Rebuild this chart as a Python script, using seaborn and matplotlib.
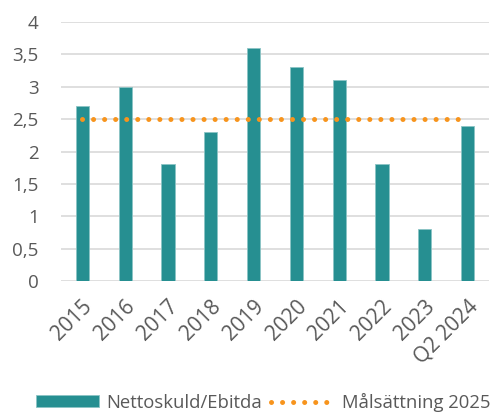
import matplotlib
matplotlib.use("Agg")
import matplotlib.pyplot as plt
import matplotlib.transforms as mtransforms
import seaborn as sns
import pandas as pd

categories = ["2015", "2016", "2017", "2018", "2019", "2020", "2021", "2022", "2023", "Q2 2024"]
nettoskuld_ebitda = [2.7, 3.0, 1.8, 2.3, 3.6, 3.3, 3.1, 1.8, 0.8, 2.4]
malsattning = [2.5] * len(categories)
y_ticks = [0, 0.5, 1, 1.5, 2, 2.5, 3, 3.5, 4]
y_tick_labels = ["0", "0,5", "1", "1,5", "2", "2,5", "3", "3,5", "4"]

df = pd.DataFrame({"period": categories, "value": nettoskuld_ebitda, "target": malsattning})

sns.set_style("white")
plt.rcParams["font.family"] = ["Open Sans", "DejaVu Sans"]
text_color = "#595959"
teal = "#268F91"
orange = "#F7941D"

fig = plt.figure(figsize=(4.92, 4.16), dpi=100)
ax = fig.add_axes([0.124, 0.3245, 0.870, 0.6225])

sns.barplot(data=df, x="period", y="value", color=teal, width=0.31,
            edgecolor="#8CC4C5", linewidth=0.6, saturation=1,
            ax=ax, zorder=3)
line, = ax.plot(range(len(categories)), df["target"], color=orange, linewidth=3.6,
                linestyle=(0, (0.01, 2.2)), dash_capstyle="round", zorder=4)

ax.set_ylim(0, 4)
ax.set_xlim(-0.5, len(categories) - 0.5)
ax.set_yticks(y_ticks)
ax.set_yticklabels(y_tick_labels)
ax.yaxis.grid(True, color="#D9D9D9", linewidth=1.2, zorder=0)
ax.set_axisbelow(True)
for s in ax.spines.values():
    s.set_visible(False)
ax.set_xlabel("")
ax.set_ylabel("")
ax.tick_params(axis="y", length=0, pad=16, labelsize=13.5, labelcolor=text_color)
ax.tick_params(axis="x", length=0, pad=16, labelsize=15, labelcolor=text_color)
shift = mtransforms.ScaledTranslation(5 / 72, 0, fig.dpi_scale_trans)
for lbl in ax.get_xticklabels():
    lbl.set_rotation(45)
    lbl.set_ha("right")
    lbl.set_va("center")
    lbl.set_rotation_mode("anchor")
    lbl.set_transform(lbl.get_transform() + shift)

bar_handle = ax.patches[0]
leg = fig.legend([bar_handle, line], ["Nettoskuld/Ebitda", "Målsättning 2025"],
                 loc="lower center", ncol=2,
                 bbox_to_anchor=(0.535, -0.03), frameon=False,
                 fontsize=13.3, handlelength=3.4, handleheight=0.6,
                 columnspacing=0.5, handletextpad=0.4)
for t in leg.get_texts():
    t.set_color(text_color)

fig.savefig("out.png", dpi=100)
